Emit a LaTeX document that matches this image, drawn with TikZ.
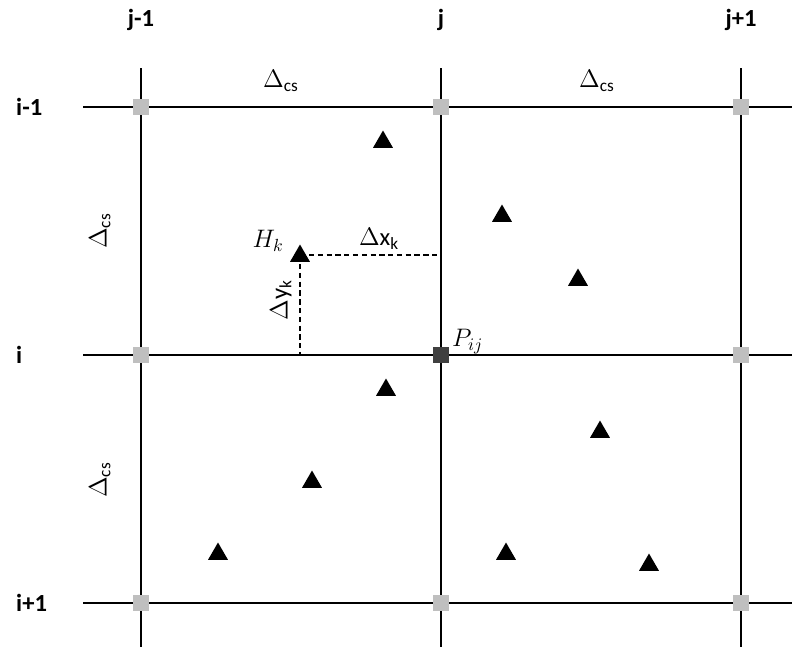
\documentclass[tikz,border=0pt]{standalone}
\usepackage{fontspec}
\setmainfont{Carlito}
\usetikzlibrary{shapes.geometric}

\tikzset{
  gridline/.style={line width=1.2pt},
  pt/.style={fill=black!25, minimum size=0.32cm, inner sep=0pt},
  ptij/.style={fill=black!75, minimum size=0.32cm, inner sep=0pt},
  tri/.style={regular polygon, regular polygon sides=3, fill=black, minimum size=0.46cm, inner sep=0pt},
  idx/.style={font=\bfseries\fontsize{14}{16}\selectfont},
  lbl/.style={font=\fontsize{14}{16}\selectfont},
  gap/.style={dash pattern=on 3pt off 2pt, line width=1pt}
}

\begin{document}
\begin{tikzpicture}[x=0.02cm, y=-0.02cm]
  \useasboundingbox (0,0) rectangle (792,647);
  % grid lines
  \foreach \x in {141,441,741}
    \draw[gridline] (\x,68) -- (\x,647);
  \foreach \y in {107,355,603}
    \draw[gridline] (83,\y) -- (792,\y);
  % column and row indices
  \node[idx] (cj1) at (141,20) {j-1};
  \node[idx] (cj) at (441,20) {j};
  \node[idx] (cj2) at (741,20) {j+1};
  \node[idx, anchor=west] (ri1) at (10,107) {i-1};
  \node[idx, anchor=west] (ri) at (10,355) {i};
  \node[idx, anchor=west] (ri2) at (10,603) {i+1};
  % grid points
  \foreach \x/\n in {141/a,441/b,741/c}
    \foreach \y/\m in {107/1,355/2,603/3}
      \node[pt] (p\n\m) at (\x,\y) {};
  \node[ptij] (pij) at (441,355) {};
  \node[lbl, anchor=south west] at (446,360) {$P_{ij}$};
  % cell sizes
  \node[lbl] (dx1) at (281,81) {$\Delta_{\mathrm{cs}}$};
  \node[lbl] (dx2) at (597,81) {$\Delta_{\mathrm{cs}}$};
  \node[lbl, rotate=90] (dy1) at (100,231) {$\Delta_{\mathrm{cs}}$};
  \node[lbl, rotate=90] (dy2) at (100,480) {$\Delta_{\mathrm{cs}}$};
  % stations
  \foreach \x/\y/\n in {383/142/s1, 502/216/s2, 578/280/s3, 386/390/s4,
                        600/432/s5, 312/482/s6, 218/554/s7, 506/554/s8, 649/565/s9}
    \node[tri] (\n) at (\x,\y) {};
  \node[tri] (hk) at (300,256) {};
  \node[lbl, anchor=east] at (290,241) {$H_k$};
  % distances to P_ij
  \coordinate (ex) at (441,255);
  \coordinate (ey) at (300,355);
  \draw[gap] (hk.east |- ex) ++(2,0) -- (ex);
  \draw[gap] (hk.south) ++(0,2) -- (ey);
  \node[lbl] (dxk) at (379,239) {$\Delta\mathrm{x}_{\mathrm{k}}$};
  \node[lbl, rotate=90] (dyk) at (281,300) {$\Delta\mathrm{y}_{\mathrm{k}}$};
\end{tikzpicture}
\end{document}
